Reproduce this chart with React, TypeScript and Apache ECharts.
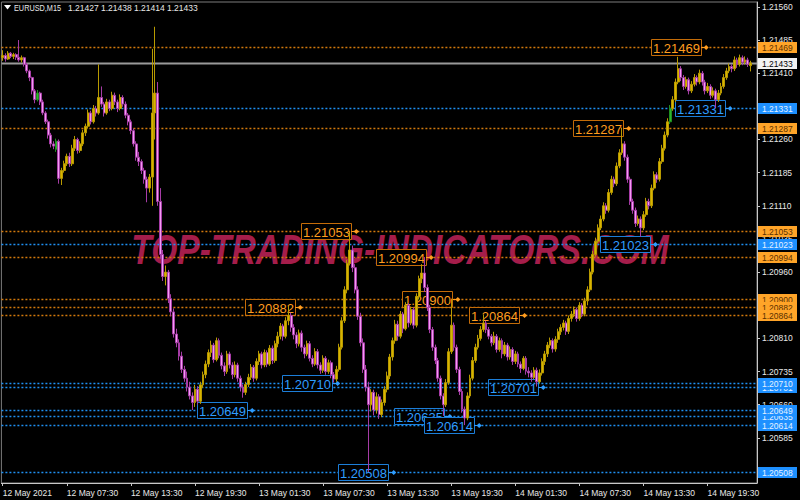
import React, { useEffect, useRef } from "react";
import * as echarts from "echarts";

const SYMBOL = "EURUSD,M15";
const LAST_OHLC = ["1.21427", "1.21438", "1.21414", "1.21433"];
const WATERMARK = "TOP-TRADING-INDICATORS.COM";

const BASE_PRICE = 1.2;
const POINT = 0.00001;
const FIRST_BAR_UTC = Date.UTC(2021, 4, 12, 1, 30);
const BAR_MINUTES = 15;
const RIGHT_SHIFT_BARS = 2;
const LABEL_EVERY = 24;

// 15-minute bars, [open, high, low, close] in points above 1.20000
const ohlcPoints: number[][] = [
  [1445, 1462, 1438, 1450], [1450, 1455, 1436, 1442], [1442, 1460, 1440, 1455], [1455, 1458, 1444, 1448],
  [1448, 1456, 1442, 1452], [1452, 1455, 1440, 1446], [1446, 1485, 1436, 1440], [1440, 1450, 1434, 1445],
  [1445, 1447, 1425, 1430], [1430, 1433, 1410, 1415], [1415, 1418, 1392, 1400], [1400, 1402, 1362, 1370],
  [1370, 1374, 1342, 1350], [1350, 1372, 1346, 1365], [1365, 1368, 1338, 1345], [1345, 1350, 1315, 1320],
  [1320, 1324, 1295, 1300], [1300, 1305, 1262, 1270], [1270, 1275, 1242, 1250], [1250, 1256, 1238, 1245],
  [1238, 1262, 1232, 1256], [1256, 1260, 1160, 1172], [1172, 1196, 1157, 1190], [1190, 1212, 1185, 1205],
  [1205, 1228, 1200, 1222], [1222, 1230, 1198, 1205], [1205, 1248, 1200, 1240], [1240, 1268, 1234, 1260],
  [1260, 1264, 1228, 1235], [1235, 1256, 1230, 1250], [1250, 1282, 1245, 1275], [1275, 1296, 1268, 1290],
  [1290, 1328, 1285, 1320], [1320, 1325, 1294, 1300], [1300, 1338, 1296, 1330], [1330, 1336, 1312, 1320],
  [1320, 1430, 1316, 1355], [1355, 1380, 1334, 1340], [1340, 1345, 1312, 1320], [1320, 1352, 1316, 1345],
  [1345, 1350, 1324, 1330], [1330, 1368, 1326, 1360], [1360, 1366, 1338, 1345], [1345, 1350, 1322, 1330],
  [1330, 1362, 1326, 1355], [1355, 1360, 1334, 1340], [1340, 1346, 1308, 1315], [1315, 1320, 1292, 1300],
  [1300, 1305, 1272, 1280], [1280, 1285, 1244, 1250], [1250, 1256, 1212, 1220], [1220, 1232, 1200, 1210],
  [1210, 1215, 1182, 1190], [1190, 1196, 1160, 1170], [1170, 1176, 1118, 1150], [1150, 1182, 1140, 1175],
  [1175, 1465, 1110, 1320], [1320, 1515, 1260, 1365], [1365, 1390, 1110, 1120], [1120, 1150, 990, 1000],
  [1000, 1010, 940, 950], [950, 975, 930, 960], [960, 965, 890, 900], [900, 910, 860, 870],
  [870, 878, 812, 820], [820, 832, 790, 800], [800, 808, 760, 770], [770, 780, 732, 740],
  [740, 748, 712, 720], [720, 735, 690, 700], [700, 712, 672, 680], [680, 688, 648, 665],
  [665, 705, 655, 695], [695, 702, 660, 668], [668, 712, 662, 705], [705, 735, 698, 728],
  [728, 760, 720, 752], [752, 785, 745, 778], [778, 805, 768, 795], [795, 800, 755, 762],
  [762, 812, 758, 805], [805, 810, 765, 772], [772, 778, 740, 748], [748, 756, 725, 735],
  [735, 782, 730, 775], [775, 780, 742, 750], [750, 756, 718, 728], [728, 758, 722, 750],
  [750, 755, 712, 720], [720, 726, 690, 700], [700, 706, 676, 688], [688, 712, 682, 706],
  [706, 730, 700, 722], [722, 752, 716, 745], [745, 750, 712, 720], [720, 765, 715, 758],
  [758, 782, 750, 775], [775, 780, 742, 750], [750, 785, 745, 778], [778, 783, 745, 752],
  [752, 795, 748, 788], [788, 794, 752, 760], [760, 805, 755, 798], [798, 825, 790, 815],
  [815, 845, 808, 838], [838, 843, 805, 815], [815, 858, 810, 850], [850, 884, 840, 862],
  [862, 868, 825, 835], [835, 842, 808, 818], [818, 824, 788, 798], [798, 830, 792, 822],
  [822, 828, 780, 790], [790, 796, 765, 775], [775, 805, 770, 798], [798, 804, 758, 765],
  [765, 772, 745, 752], [752, 788, 748, 780], [780, 786, 742, 750], [750, 756, 730, 738],
  [738, 772, 732, 765], [765, 770, 728, 735], [735, 762, 730, 755], [755, 760, 720, 728],
  [728, 734, 710, 718], [718, 748, 712, 740], [740, 798, 735, 790], [790, 858, 785, 850],
  [850, 928, 845, 920], [920, 988, 912, 980], [980, 1053, 975, 1010], [1010, 1020, 960, 970],
  [970, 978, 912, 920], [920, 928, 852, 860], [860, 868, 792, 800], [800, 810, 732, 740],
  [740, 750, 690, 700], [700, 712, 508, 660], [660, 695, 645, 688], [688, 694, 636, 648],
  [648, 688, 640, 678], [678, 684, 628, 638], [638, 672, 632, 665], [665, 702, 658, 695],
  [695, 735, 688, 725], [725, 775, 718, 768], [768, 812, 760, 805], [805, 852, 798, 842],
  [842, 850, 805, 815], [815, 872, 810, 865], [865, 870, 822, 832], [832, 892, 828, 885],
  [885, 890, 835, 845], [845, 882, 840, 875], [875, 880, 832, 840], [840, 912, 835, 905],
  [905, 952, 898, 945], [945, 978, 935, 958], [958, 994, 915, 925], [925, 932, 872, 880],
  [880, 886, 822, 830], [830, 836, 782, 790], [790, 796, 752, 760], [760, 766, 712, 720],
  [720, 726, 672, 680], [680, 686, 635, 660], [660, 718, 655, 710], [710, 788, 705, 780],
  [780, 900, 775, 840], [840, 846, 782, 790], [790, 796, 732, 740], [740, 746, 682, 690],
  [690, 696, 642, 650], [650, 656, 614, 630], [630, 688, 625, 680], [680, 728, 675, 720],
  [720, 768, 715, 760], [760, 798, 755, 790], [790, 818, 785, 810], [810, 838, 805, 830],
  [830, 864, 825, 845], [845, 850, 822, 830], [830, 836, 808, 815], [815, 820, 792, 800],
  [800, 825, 795, 815], [815, 820, 778, 785], [785, 812, 780, 805], [805, 810, 765, 775],
  [775, 802, 770, 795], [795, 800, 760, 768], [768, 792, 762, 785], [785, 790, 750, 758],
  [758, 782, 752, 775], [775, 780, 745, 752], [752, 758, 732, 742], [742, 770, 738, 765],
  [765, 770, 728, 736], [736, 745, 722, 732], [732, 738, 712, 722], [722, 745, 718, 738],
  [738, 744, 701, 712], [712, 740, 708, 732], [732, 765, 726, 758], [758, 782, 750, 775],
  [775, 802, 768, 795], [795, 812, 788, 805], [805, 810, 778, 786], [786, 815, 780, 808],
  [808, 832, 800, 825], [825, 842, 818, 835], [835, 852, 828, 845], [845, 850, 818, 826],
  [826, 862, 820, 855], [855, 872, 848, 865], [865, 882, 858, 875], [875, 880, 848, 855],
  [855, 892, 850, 885], [885, 890, 858, 865], [865, 902, 860, 895], [895, 928, 885, 920],
  [920, 968, 915, 960], [960, 1008, 955, 1000], [1000, 1038, 995, 1030], [1030, 1068, 1025, 1060],
  [1060, 1088, 1055, 1080], [1080, 1118, 1075, 1110], [1110, 1116, 1092, 1100], [1100, 1148, 1095, 1140],
  [1140, 1178, 1135, 1170], [1170, 1176, 1152, 1160], [1160, 1208, 1155, 1200], [1200, 1238, 1195, 1230],
  [1230, 1287, 1225, 1250], [1250, 1256, 1212, 1220], [1220, 1226, 1162, 1170], [1170, 1176, 1112, 1120],
  [1120, 1126, 1092, 1100], [1100, 1106, 1062, 1070], [1070, 1088, 1065, 1080], [1080, 1086, 1040, 1060],
  [1060, 1098, 1055, 1090], [1090, 1128, 1085, 1120], [1120, 1126, 1102, 1110], [1110, 1158, 1105, 1150],
  [1150, 1188, 1145, 1180], [1180, 1186, 1162, 1170], [1170, 1218, 1165, 1210], [1210, 1248, 1205, 1240],
  [1240, 1278, 1235, 1270], [1270, 1308, 1265, 1300], [1300, 1338, 1295, 1330], [1330, 1358, 1325, 1350],
  [1350, 1398, 1345, 1390], [1390, 1447, 1385, 1420], [1420, 1426, 1392, 1400], [1400, 1406, 1372, 1380],
  [1380, 1402, 1375, 1395], [1395, 1400, 1362, 1370], [1370, 1392, 1365, 1385], [1385, 1408, 1380, 1400],
  [1400, 1405, 1382, 1390], [1390, 1418, 1385, 1410], [1410, 1415, 1382, 1390], [1390, 1395, 1362, 1370],
  [1370, 1388, 1365, 1380], [1380, 1385, 1352, 1360], [1360, 1378, 1355, 1370], [1370, 1375, 1331, 1350],
  [1350, 1372, 1345, 1365], [1365, 1388, 1360, 1380], [1380, 1408, 1375, 1400], [1400, 1422, 1395, 1415],
  [1415, 1432, 1410, 1425], [1425, 1430, 1412, 1420], [1420, 1448, 1415, 1440], [1440, 1445, 1422, 1430],
  [1430, 1452, 1425, 1445], [1445, 1450, 1428, 1435], [1435, 1448, 1430, 1440], [1440, 1445, 1424, 1430],
  [1427, 1438, 1414, 1433],
];

// bars painted green on the chart
const greenBars = [13, 20, 250];

// support / resistance levels: price, kind (R = resistance, S = support), bar the label points at
const levelPrices = [
  1.21469, 1.21331, 1.21287, 1.21053, 1.21023, 1.20994, 1.209, 1.20882,
  1.20864, 1.20701, 1.2071, 1.20635, 1.20649, 1.20614, 1.20508,
];
const levelKinds = ["R", "S", "R", "R", "S", "R", "R", "R", "R", "S", "S", "S", "S", "S", "S"];
const levelAnchorBars = [264, 273, 235, 133, 245, 161, 171, 112, 196, 203, 126, 168, 94, 179, 147];

const bidPrice = 1.21433;

const priceTicks = [
  1.2051, 1.20585, 1.2066, 1.20735, 1.2081, 1.20885, 1.2096, 1.21035,
  1.2111, 1.21185, 1.2126, 1.21335, 1.2141, 1.21485, 1.2156,
];
// tick labels that stay readable beside the price boxes
const priceTickLabels = [
  1.20585, 1.2066, 1.20735, 1.2081, 1.2096, 1.21035,
  1.2111, 1.21185, 1.2126, 1.2141, 1.21485, 1.2156,
];
const priceMin = 1.20483;
const priceMax = 1.21571;

const MONTHS = ["Jan", "Feb", "Mar", "Apr", "May", "Jun", "Jul", "Aug", "Sep", "Oct", "Nov", "Dec"];
const pad2 = (n: number) => (n < 10 ? "0" + n : "" + n);

const categories: string[] = [];
for (let i = 0; i < ohlcPoints.length + RIGHT_SHIFT_BARS; i++) {
  const d = new Date(FIRST_BAR_UTC + i * BAR_MINUTES * 60000);
  categories.push(
    `${d.getUTCDate()} ${MONTHS[d.getUTCMonth()]} ${pad2(d.getUTCHours())}:${pad2(d.getUTCMinutes())}`
  );
}
const firstDate = new Date(FIRST_BAR_UTC);
const firstLabel = `${firstDate.getUTCDate()} ${MONTHS[firstDate.getUTCMonth()]} ${firstDate.getUTCFullYear()}`;

const toPrice = (p: number) => +(BASE_PRICE + p * POINT).toFixed(5);

const candleData = ohlcPoints.map((b, i) => {
  const value = [toPrice(b[0]), toPrice(b[3]), toPrice(b[2]), toPrice(b[1])];
  if (greenBars.indexOf(i) >= 0) {
    return {
      value,
      itemStyle: { color: "#2fb52f", color0: "#2fb52f", borderColor: "#1f8f1f", borderColor0: "#1f8f1f" },
    };
  }
  return { value };
});

const PAL: Record<string, any> = {
  R: { line: "#d2790c", border: "#c46c08", text: "#ff9d1f", boxFill: "#ffa428", boxText: "#5a3000" },
  S: { line: "#1f8ff0", border: "#1c7ed8", text: "#2f9dff", boxFill: "#1e90ff", boxText: "#e4f1ff" },
};

const SMALL_FONT = '8.5px "Liberation Sans"';

const levelData = levelPrices.map((p, i) => [levelAnchorBars[i], p, i]);

function renderLevel(params: any, api: any) {
  const cs = params.coordSys;
  const i = api.value(2);
  const price = api.value(1);
  const pt = api.coord([api.value(0), price]);
  const y = Math.round(pt[1]) + 0.5;
  const c = PAL[levelKinds[i]];
  const tip = pt[0];
  const boxRight = tip - 7;
  const boxLeft = boxRight - 50;
  return {
    type: "group",
    children: [
      {
        type: "line",
        shape: { x1: cs.x, y1: y, x2: cs.x + cs.width, y2: y },
        style: { stroke: c.line, lineWidth: 1.4, lineDash: [2, 2] },
      },
      {
        type: "rect",
        shape: { x: Math.round(boxLeft) + 0.5, y: y - 8, width: 50, height: 16 },
        style: { fill: "#000", stroke: c.border, lineWidth: 1 },
      },
      {
        type: "text",
        x: Math.round(boxLeft) + 25.5,
        y: y + 0.5,
        style: {
          text: price.toFixed(5),
          fill: c.text,
          font: '13px "Liberation Sans"',
          align: "center",
          verticalAlign: "middle",
        },
      },
      {
        type: "line",
        shape: { x1: boxRight + 0.5, y1: y, x2: tip - 2, y2: y },
        style: { stroke: c.text, lineWidth: 1 },
      },
      {
        type: "polygon",
        shape: { points: [[tip - 4, y], [tip - 1.5, y - 2.5], [tip + 1, y], [tip - 1.5, y + 2.5]] },
        style: { fill: c.text },
      },
    ],
  };
}

function renderBid(params: any, api: any) {
  const cs = params.coordSys;
  const y = Math.round(api.coord([0, api.value(1)])[1]) + 0.5;
  return {
    type: "line",
    shape: { x1: cs.x, y1: y, x2: cs.x + cs.width, y2: y },
    style: { stroke: "#9a9a9a", lineWidth: 2 },
  };
}

const priceBoxData = [...levelPrices.map((p, i) => [0, p, i]), [0, bidPrice, -1]];

function renderPriceBox(params: any, api: any) {
  const cs = params.coordSys;
  const i = api.value(2);
  const price = api.value(1);
  const y = Math.round(api.coord([0, price])[1]);
  const x = cs.x + cs.width + 1;
  const fill = i < 0 ? "#f2f2f2" : PAL[levelKinds[i]].boxFill;
  const textFill = i < 0 ? "#000" : PAL[levelKinds[i]].boxText;
  return {
    type: "group",
    children: [
      { type: "rect", shape: { x, y: y - 5, width: 39, height: 11 }, style: { fill } },
      {
        type: "text",
        x: x + 4,
        y: y + 0.5,
        style: { text: price.toFixed(5), fill: textFill, font: SMALL_FONT, align: "left", verticalAlign: "middle" },
      },
    ],
  };
}

const showEvery = (idx: number) => idx % LABEL_EVERY === 0;

const option: any = {
  backgroundColor: "#000000",
  animation: false,
  grid: {
    left: 1.4,
    right: 43,
    top: 2,
    bottom: 17,
    show: true,
    borderColor: "#7c7c7c",
    borderWidth: 1,
    outerBoundsMode: "none",
  },
  xAxis: {
    type: "category",
    data: categories,
    boundaryGap: true,
    axisLine: { show: true, lineStyle: { color: "#c8c8c8" } },
    axisTick: { show: true, alignWithLabel: true, interval: showEvery, length: 3, lineStyle: { color: "#c8c8c8" } },
    axisLabel: {
      interval: showEvery,
      align: "left",
      color: "#e8e8e8",
      fontSize: 8.5,
      fontFamily: "Liberation Sans",
      margin: 5,
      formatter: (v: string, idx: number) => (idx === 0 ? firstLabel : v),
    },
    splitLine: { show: false },
  },
  yAxis: {
    type: "value",
    position: "right",
    min: priceMin,
    max: priceMax,
    scale: true,
    axisLine: { show: true, lineStyle: { color: "#c8c8c8" } },
    axisTick: { show: true, length: 3, lineStyle: { color: "#c8c8c8" }, customValues: priceTicks },
    axisLabel: {
      color: "#e8e8e8",
      fontSize: 8.5,
      fontFamily: "Liberation Sans",
      margin: 5,
      customValues: priceTickLabels,
      formatter: (v: number) => v.toFixed(5),
    },
    splitLine: { show: false },
  },
  graphic: [
    {
      type: "text",
      x: 400,
      y: 250,
      z: 0,
      scaleX: 0.8,
      style: {
        text: WATERMARK,
        fill: "#a51d4b",
        font: 'italic bold 42px "Liberation Sans"',
        align: "center",
        verticalAlign: "middle",
      },
    },
    {
      type: "polygon",
      z: 10,
      shape: { points: [[4, 5], [11, 5], [7.5, 9.5]] },
      style: { fill: "#ffffff" },
    },
    {
      type: "text",
      x: 14,
      y: 8,
      z: 10,
      scaleX: 0.86,
      style: { text: SYMBOL, fill: "#e8e8e8", font: SMALL_FONT, verticalAlign: "middle" },
    },
    ...LAST_OHLC.map((t, k) => ({
      type: "text",
      x: 68 + k * 33,
      y: 8,
      z: 10,
      style: { text: t, fill: "#e8e8e8", font: SMALL_FONT, verticalAlign: "middle" },
    })),
  ],
  series: [
    {
      type: "custom",
      name: "levels",
      z: 3,
      clip: false,
      renderItem: renderLevel,
      data: levelData,
      silent: true,
    },
    {
      type: "custom",
      name: "bid",
      z: 3,
      renderItem: renderBid,
      data: [[0, bidPrice]],
      silent: true,
    },
    {
      type: "candlestick",
      name: SYMBOL,
      z: 5,
      barWidth: 2.4,
      data: candleData,
      itemStyle: {
        color: "#d9b400",
        color0: "#f29cf2",
        borderColor: "#b89a00",
        borderColor0: "#a63ca6",
        borderWidth: 1,
      },
    },
    {
      type: "custom",
      name: "price boxes",
      z: 10,
      clip: false,
      renderItem: renderPriceBox,
      data: priceBoxData,
      silent: true,
    },
  ],
};

export default function App() {
  const ref = useRef<HTMLDivElement>(null);
  useEffect(() => {
    const chart = echarts.init(ref.current as HTMLDivElement, null, { renderer: "svg" });
    chart.setOption(option);
    return () => chart.dispose();
  }, []);
  return (
    <div
      ref={ref}
      style={{ position: "fixed", left: 0, top: 0, width: 800, height: 500, background: "#000" }}
    />
  );
}
